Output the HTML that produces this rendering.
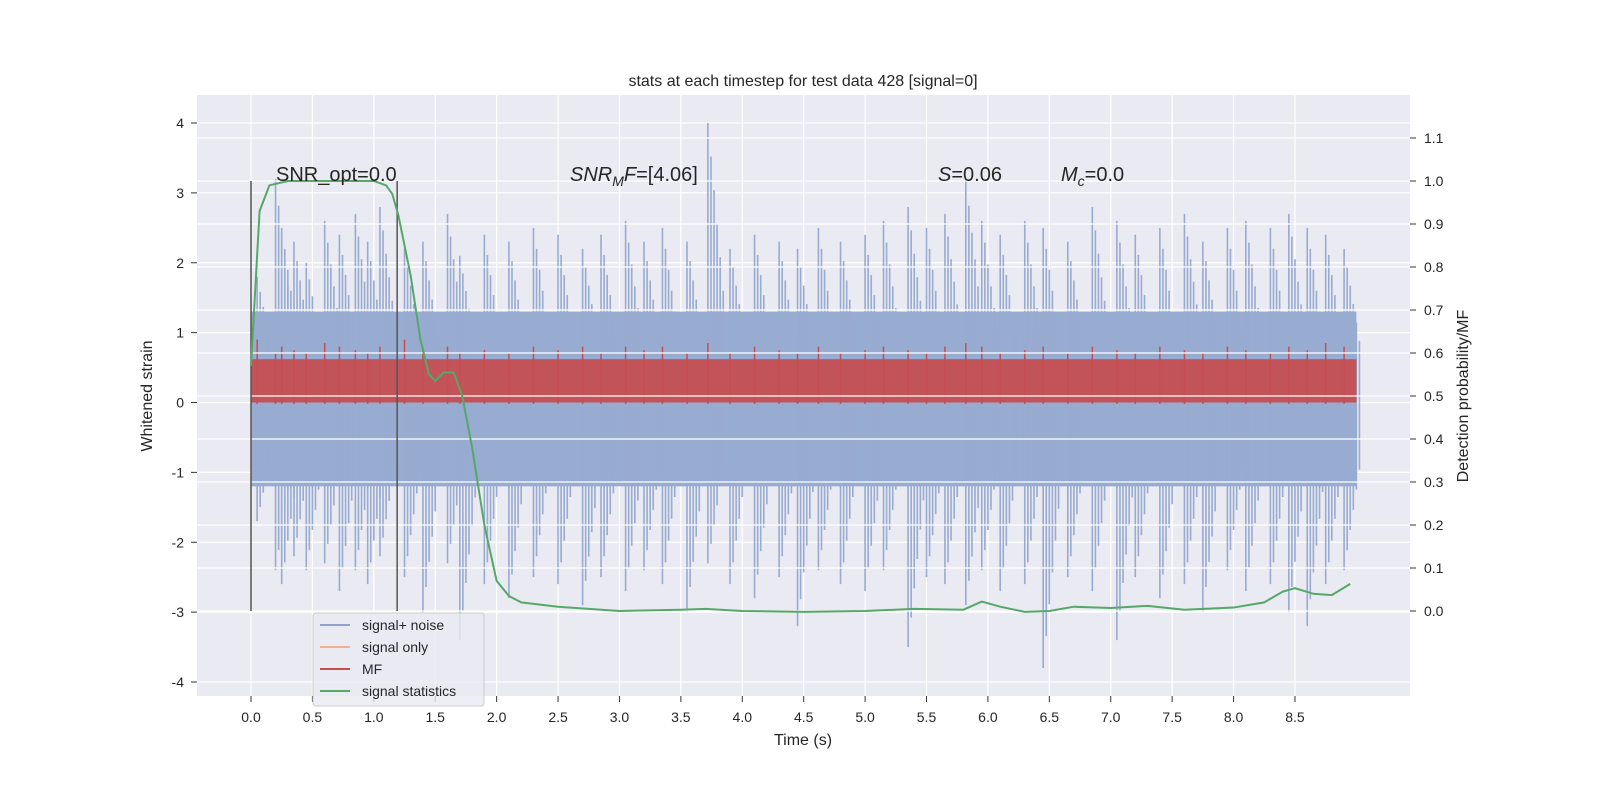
<!DOCTYPE html>
<html><head><meta charset="utf-8"><style>
html,body{margin:0;padding:0;background:#fff;overflow:hidden;width:1600px;height:800px}
svg{display:block;font-family:"Liberation Sans","DejaVu Sans",sans-serif}
</style></head><body>
<svg id="chart" width="1600" height="800" viewBox="0 0 1600 800">
<rect x="197" y="95" width="1213" height="601" fill="#eaeaf2"/>
<g id="lgrid"></g><g id="noise"></g><g id="mf"></g><g id="rgrid"></g><g id="vlines"></g><g id="green"></g><g id="axes"></g>
<text x="803" y="86" text-anchor="middle" font-size="16" fill="#262626">stats at each timestep for test data 428 [signal=0]</text>
<text x="803" y="745" text-anchor="middle" font-size="16" fill="#262626">Time (s)</text>
<text transform="translate(152,396) rotate(-90)" text-anchor="middle" font-size="16" fill="#262626">Whitened strain</text>
<text transform="translate(1468,396) rotate(-90)" text-anchor="middle" font-size="16" fill="#262626">Detection probability/MF</text>
<text x="276" y="181" font-size="20" fill="#262626">SNR_opt=0.0</text>
<text x="570" y="181" font-size="20" fill="#262626"><tspan font-style="italic">SNR</tspan><tspan font-style="italic" font-size="14" dy="5">M</tspan><tspan font-style="italic" dy="-5">F</tspan>=[4.06]</text>
<text x="938" y="181" font-size="20" fill="#262626"><tspan font-style="italic">S</tspan>=0.06</text>
<text x="1061" y="181" font-size="20" fill="#262626"><tspan font-style="italic">M</tspan><tspan font-style="italic" font-size="14" dy="5">c</tspan><tspan dy="-5">=0.0</tspan></text>
<g>
<rect x="313" y="613" width="171" height="93" rx="3" fill="#eaeaf2" fill-opacity="0.8" stroke="#ccc"/>
<line x1="320" x2="350" y1="625" y2="625" stroke="#8fa3cc" stroke-width="2"/><text x="362" y="630" font-size="14" fill="#262626">signal+ noise</text>
<line x1="320" x2="350" y1="647" y2="647" stroke="#efb08f" stroke-width="2"/><text x="362" y="652" font-size="14" fill="#262626">signal only</text>
<line x1="320" x2="350" y1="669" y2="669" stroke="#c44e52" stroke-width="2"/><text x="362" y="674" font-size="14" fill="#262626">MF</text>
<line x1="320" x2="350" y1="691" y2="691" stroke="#55a868" stroke-width="2"/><text x="362" y="696" font-size="14" fill="#262626">signal statistics</text>
</g>
</svg>
<script>
const xTicks=[0,0.5,1,1.5,2,2.5,3,3.5,4,4.5,5,5.5,6,6.5,7,7.5,8,8.5];
const yTicks=[-4,-3,-2,-1,0,1,2,3,4];
const rTicks=[0,0.1,0.2,0.3,0.4,0.5,0.6,0.7,0.8,0.9,1.0,1.1];
const noiseBand=[-1.2,1.3];
const mfBand=[0.0,0.62];
const spikeTimes=[0.05,0.2,0.25,0.35,0.45,0.6,0.72,0.85,0.95,1.05,1.25,1.4,1.6,1.7,1.9,2.1,2.3,2.5,2.7,2.85,3.05,3.2,3.35,3.55,3.72,3.9,4.1,4.3,4.45,4.62,4.8,5.0,5.15,5.35,5.5,5.65,5.82,5.95,6.1,6.3,6.45,6.65,6.85,7.05,7.2,7.4,7.6,7.75,7.95,8.1,8.3,8.45,8.6,8.75,8.9];
const spikeHigh=[1.8,3.2,2.5,2.3,2.0,2.6,2.4,2.7,2.3,2.8,2.2,2.3,2.7,2.1,2.4,2.3,2.5,2.4,2.2,2.4,2.6,2.3,2.5,2.3,4.0,2.2,2.4,2.3,2.2,2.5,2.3,2.4,2.6,2.8,2.5,2.7,3.2,2.6,2.4,2.6,2.5,2.3,2.8,2.6,2.4,2.5,2.7,2.3,2.5,2.6,2.5,2.7,2.5,2.4,2.2];
const spikeLow=[-1.7,-2.4,-2.6,-2.2,-2.4,-2.3,-2.7,-2.4,-2.6,-2.2,-2.5,-3.0,-2.3,-3.4,-2.6,-2.8,-2.5,-2.6,-2.9,-2.5,-2.7,-2.4,-2.6,-3.0,-2.3,-2.6,-2.8,-2.5,-3.2,-2.4,-2.6,-2.7,-2.4,-3.5,-2.5,-2.6,-2.9,-2.4,-2.7,-2.6,-3.8,-2.5,-2.7,-3.4,-2.5,-2.8,-2.6,-3.0,-2.4,-2.7,-2.6,-3.0,-3.2,-2.6,-2.4];
const mfSpikeHigh=[0.9,0.7,0.8,0.75,0.7,0.85,0.8,0.75,0.7,0.8,0.9,0.75,0.8,0.7,0.75,0.7,0.8,0.75,0.8,0.7,0.8,0.75,0.8,0.7,0.85,0.7,0.8,0.75,0.7,0.8,0.7,0.75,0.8,0.75,0.7,0.8,0.85,0.8,0.7,0.75,0.8,0.7,0.8,0.75,0.7,0.8,0.75,0.7,0.8,0.75,0.7,0.8,0.75,0.85,0.8];
const statTimes=[0,0.07,0.15,0.3,0.6,1.0,1.1,1.15,1.2,1.3,1.38,1.45,1.5,1.57,1.65,1.72,1.8,1.9,2.0,2.1,2.2,2.5,3.0,3.5,3.7,4.0,4.5,5.0,5.4,5.8,5.95,6.1,6.3,6.5,6.7,7.0,7.3,7.6,8.0,8.25,8.4,8.5,8.65,8.8,8.95];
const statValues=[0.57,0.93,0.99,1.0,1.0,1.0,0.99,0.97,0.92,0.78,0.63,0.55,0.535,0.555,0.555,0.5,0.38,0.2,0.07,0.035,0.02,0.01,0.0,0.003,0.005,0.0,-0.002,0.0,0.005,0.003,0.022,0.01,-0.002,0.0,0.01,0.007,0.012,0.003,0.008,0.02,0.045,0.053,0.04,0.037,0.063];
const markerTimes=[0,1.19];
const NS="http://www.w3.org/2000/svg";
const X=t=>251+t*122.82, Y=v=>402.5-v*69.875, R=p=>611-p*430;
function mk(par,tag,at){const e=document.createElementNS(NS,tag);for(const k in at)e.setAttribute(k,at[k]);document.getElementById(par).appendChild(e);return e;}
xTicks.forEach(t=>{const l=mk('lgrid','line',{x1:X(t),x2:X(t),y1:95,y2:696,stroke:'#fff','stroke-width':1.2});


const tk=mk('axes','line',{x1:X(t),x2:X(t),y1:696,y2:702,stroke:'#333'});


const tx=mk('axes','text',{x:X(t),y:722,'text-anchor':'middle','font-size':14,fill:'#262626'});tx.textContent=t.toFixed(1);

});
yTicks.forEach(v=>{const l=mk('lgrid','line',{x1:197,x2:1410,y1:Y(v),y2:Y(v),stroke:'#fff','stroke-width':1.2});


const tk=mk('axes','line',{x1:191,x2:197,y1:Y(v),y2:Y(v),stroke:'#333'});


const tx=mk('axes','text',{x:184,y:Y(v)+5,'text-anchor':'end','font-size':14,fill:'#262626'});tx.textContent=v;

});
rTicks.forEach(p=>{const l=mk('rgrid','line',{x1:197,x2:1410,y1:R(p),y2:R(p),stroke:'#fff','stroke-width':1.2});


const tk=mk('axes','line',{x1:1410,x2:1416,y1:R(p),y2:R(p),stroke:'#333'});


const tx=mk('axes','text',{x:1424,y:R(p)+5,'font-size':14,fill:'#262626'});tx.textContent=p.toFixed(1);

});
const nb=mk('noise','rect',{x:X(0),y:Y(noiseBand[1]),width:X(9)-X(0),height:Y(noiseBand[0])-Y(noiseBand[1]),fill:'#98abd0'});


spikeTimes.forEach((t,i)=>{for(let k=0;k<6;k++){const tt=t+k*0.025,f=1-k*0.12;
const s=mk('noise','line',{x1:X(tt),x2:X(tt),y1:Y(spikeHigh[i]*f),y2:Y(spikeLow[i]*f),stroke:'#98abd0','stroke-width':1.6});

}});
const mb=mk('mf','rect',{x:X(0),y:Y(mfBand[1]),width:X(9)-X(0),height:Y(mfBand[0])-Y(mfBand[1]),fill:'#c44e52','fill-opacity':0.95});


spikeTimes.forEach((t,i)=>{const s=mk('mf','line',{x1:X(t),x2:X(t),y1:Y(mfSpikeHigh[i]),y2:Y(-0.02),stroke:'#c44e52','stroke-width':1.5});

});
markerTimes.forEach(t=>{const l=mk('vlines','line',{x1:X(t),x2:X(t),y1:R(1.0),y2:R(0),stroke:'#555','stroke-width':1.5});

});
const g=mk('green','polyline',{points:statTimes.map((t,i)=>X(t)+','+R(statValues[i])).join(' '),fill:'none',stroke:'#55a868','stroke-width':2});


</script>
</body></html>
